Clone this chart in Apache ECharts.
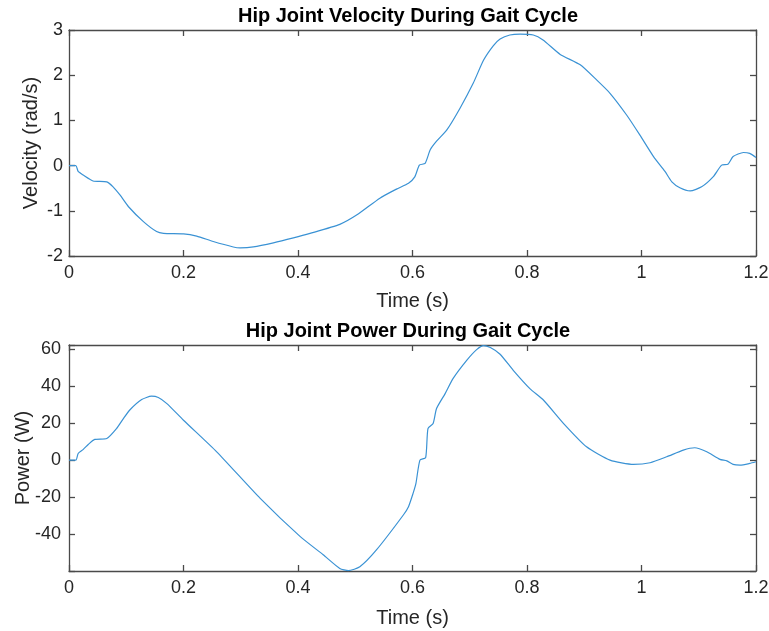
<!DOCTYPE html>
<html>
<head>
<meta charset="utf-8">
<script src="https://cdn.jsdelivr.net/npm/echarts@6/dist/echarts.min.js"></script>
<style>
html,body{margin:0;padding:0;background:#fff;}
#chart{width:769px;height:631px;}
</style>
</head>
<body>
<div id="chart"></div>
<script>
// ---- Data ----
var velTime = [0, 0.012, 0.016, 0.025, 0.042, 0.066, 0.077, 0.089, 0.104, 0.130, 0.153, 0.165, 0.200, 0.223, 0.252, 0.287, 0.299, 0.322, 0.357, 0.392, 0.421, 0.473, 0.503, 0.543, 0.572, 0.593, 0.604, 0.612, 0.622, 0.631, 0.642, 0.660, 0.683, 0.706, 0.724, 0.741, 0.753, 0.770, 0.788, 0.811, 0.828, 0.858, 0.893, 0.922, 0.945, 0.974, 0.997, 1.021, 1.041, 1.053, 1.067, 1.085, 1.105, 1.125, 1.140, 1.151, 1.160, 1.178, 1.189, 1.200];
var velocity = [0, 0, -0.13, -0.21, -0.34, -0.36, -0.47, -0.65, -0.91, -1.24, -1.46, -1.50, -1.51, -1.56, -1.68, -1.80, -1.82, -1.80, -1.71, -1.60, -1.50, -1.30, -1.09, -0.72, -0.52, -0.39, -0.25, 0.01, 0.05, 0.35, 0.54, 0.79, 1.27, 1.82, 2.33, 2.65, 2.80, 2.89, 2.91, 2.89, 2.78, 2.46, 2.23, 1.89, 1.60, 1.12, 0.68, 0.20, -0.13, -0.36, -0.49, -0.56, -0.47, -0.25, 0.01, 0.03, 0.20, 0.29, 0.27, 0.18];

var powTime = [0, 0.012, 0.016, 0.025, 0.034, 0.045, 0.066, 0.083, 0.095, 0.107, 0.127, 0.144, 0.156, 0.171, 0.200, 0.258, 0.334, 0.404, 0.444, 0.473, 0.488, 0.508, 0.537, 0.584, 0.593, 0.601, 0.606, 0.613, 0.623, 0.627, 0.636, 0.642, 0.657, 0.671, 0.695, 0.712, 0.724, 0.736, 0.753, 0.776, 0.805, 0.829, 0.864, 0.904, 0.945, 0.986, 1.015, 1.044, 1.073, 1.093, 1.114, 1.137, 1.149, 1.160, 1.172, 1.189, 1.200];
var power = [0, 0, 3.6, 5.8, 8.6, 11.2, 11.7, 17.1, 22.5, 27.4, 32.8, 34.6, 33.9, 30.6, 21.6, 4.5, -20.7, -41.4, -51.2, -58.6, -59.8, -57.7, -48.6, -29.7, -25.2, -18.0, -12.6, 0, 1.4, 17.1, 19.8, 27.9, 36.0, 44.2, 54.1, 59.8, 62.0, 60.9, 57.3, 48.6, 38.7, 32.4, 19.8, 7.2, 0, -2.3, -1.4, 1.8, 5.4, 6.7, 4.5, 0.4, -0.4, -2.3, -2.7, -1.8, -0.9];

var xTicks = [0, 0.2, 0.4, 0.6, 0.8, 1, 1.2];
var velTicks = [-2, -1, 0, 1, 2, 3];
var powTicks = [-40, -20, 0, 20, 40, 60];

var titles = ['Hip Joint Velocity During Gait Cycle', 'Hip Joint Power During Gait Cycle'];
var yNames = ['Velocity (rad/s)', 'Power (W)'];
var xName = 'Time (s)';

// ---- Build ----
function pairs(xs, ys) { return xs.map(function (x, i) { return [x, ys[i]]; }); }

var FONT = '"Liberation Sans", Arial, Helvetica, sans-serif';
var AX = '#4a4a4a';
var TXT = '#262626';
var LINE = '#3a92d4';

function xAx(gi, pos, gap) {
  var main = pos === 'bottom';
  return {
    type: 'value', gridIndex: gi, position: pos,
    min: xTicks[0], max: xTicks[xTicks.length - 1], interval: 0.2,
    name: main ? xName : '', nameLocation: 'middle', nameGap: gap, nameMoveOverlap: false,
    nameTextStyle: { fontFamily: FONT, fontSize: 20, color: TXT },
    axisLine: { show: true, onZero: false, lineStyle: { color: AX, width: 1.3 } },
    axisTick: { show: true, inside: true, length: 6, lineStyle: { color: AX, width: 1.3 } },
    axisLabel: {
      show: main, margin: 8, fontFamily: FONT, fontSize: 18, color: TXT,
      formatter: function (v) {
        var r = Math.round(v * 10) / 10;
        return xTicks.indexOf(r) >= 0 ? String(r) : '';
      }
    },
    splitLine: { show: false }
  };
}

function yAx(gi, pos, min, max, ticks, name, margin, gap) {
  var main = pos === 'left';
  return {
    type: 'value', gridIndex: gi, position: pos,
    min: min, max: max, interval: ticks[1] - ticks[0],
    name: main ? name : '', nameLocation: 'middle', nameGap: gap, nameRotate: 90, nameMoveOverlap: false,
    nameTextStyle: { fontFamily: FONT, fontSize: 20, color: TXT },
    axisLine: { show: true, onZero: false, lineStyle: { color: AX, width: 1.3 } },
    axisTick: { show: true, inside: true, length: 6, lineStyle: { color: AX, width: 1.3 } },
    axisLabel: {
      show: main, margin: margin, fontFamily: FONT, fontSize: 18, color: TXT,
      formatter: function (v) {
        var r = Math.round(v * 100) / 100;
        return ticks.indexOf(r) >= 0 ? String(r) : '';
      }
    },
    splitLine: { show: false }
  };
}

var chart = echarts.init(document.getElementById('chart'), null, { renderer: 'canvas' });
chart.setOption({
  animation: false,
  backgroundColor: '#ffffff',
  grid: [
    { left: 69, right: 13, top: 30, height: 226, containLabel: false, outerBoundsMode: 'none' },
    { left: 69, right: 13, top: 345, height: 226, containLabel: false, outerBoundsMode: 'none' }
  ],
  xAxis: [xAx(0, 'bottom', 35), xAx(0, 'top', 0), xAx(1, 'bottom', 37), xAx(1, 'top', 0)],
  yAxis: [
    yAx(0, 'left', -2, 3, velTicks, yNames[0], 6, 28),
    yAx(0, 'right', -2, 3, velTicks, '', 6, 0),
    yAx(1, 'left', -60, 62.3, powTicks, yNames[1], 8, 36),
    yAx(1, 'right', -60, 62.3, powTicks, '', 8, 0)
  ],
  graphic: [
    { type: 'text', x: 408, y: 16, style: { text: titles[0], fontFamily: FONT, fontSize: 20, fontWeight: 'bold', fill: '#000', align: 'center', verticalAlign: 'middle' } },
    { type: 'text', x: 408, y: 331, style: { text: titles[1], fontFamily: FONT, fontSize: 20, fontWeight: 'bold', fill: '#000', align: 'center', verticalAlign: 'middle' } }
  ],
  series: [
    { type: 'line', xAxisIndex: 0, yAxisIndex: 0, data: pairs(velTime, velocity), showSymbol: false, smooth: 0.2, lineStyle: { color: LINE, width: 1.2 }, itemStyle: { color: LINE } },
    { type: 'line', xAxisIndex: 2, yAxisIndex: 2, data: pairs(powTime, power), showSymbol: false, smooth: 0.2, lineStyle: { color: LINE, width: 1.2 }, itemStyle: { color: LINE } }
  ]
});
</script>
</body>
</html>
